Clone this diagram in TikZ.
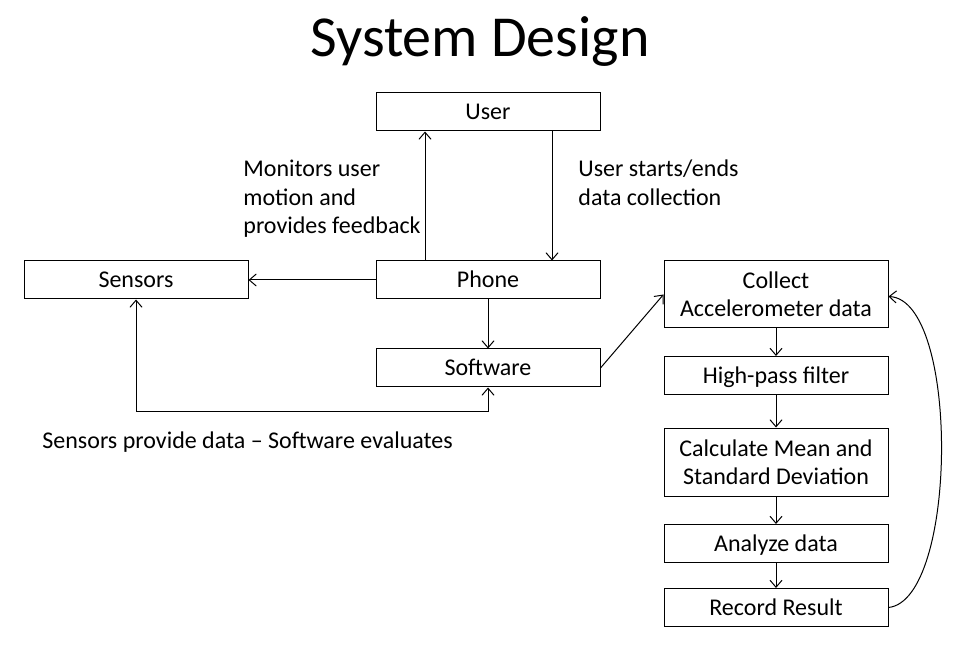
\documentclass[tikz,border=0pt]{standalone}
\usepackage{fontspec}
\setmainfont{Carlito}
\usetikzlibrary{arrows.meta}
\tikzset{
	box/.style={draw, line width=0.5pt, minimum width=112pt, minimum height=19pt, align=center, inner sep=1pt, font=\fontsize{12}{14}\selectfont},
	onebox/.style={box, text height=10pt, text depth=2pt},
	lbl/.style={align=left, anchor=west, inner sep=0pt, font=\fontsize{12}{14.3}\selectfont},
	arr/.style={line width=0.5pt, -{Straight Barb[length=3.5pt,width=6pt]}},
}
\begin{document}
\begin{tikzpicture}[x=0.5pt,y=-0.5pt]
			\useasboundingbox (0,0) rectangle (959,652);
			% title
			\node (title) at (480,42) {\fontsize{29}{35}\selectfont System Design};
			% boxes
			\node[onebox] (user) at (488,112) {User};
			\node[onebox] (phone) at (488,280) {Phone};
			\node[onebox] (sensors) at (136,280) {Sensors};
			\node[onebox] (software) at (488,368) {Software};
			\node[box, minimum height=33.5pt] (collect) at (776,294.5) {Collect\\Accelerometer data};
			\node[onebox] (hpf) at (776,375.5) {High-pass filter};
			\node[box, minimum height=34pt] (meanstd) at (776,462) {Calculate Mean and\\Standard Deviation};
			\node[onebox] (analyze) at (776,543.5) {Analyze data};
			\node[onebox] (record) at (776,607.5) {Record Result};
			% labels
			\node[lbl] (monitors) at (243,199) {Monitors user\\motion and\\provides feedback};
			\node[lbl] (starts) at (578,183) {User starts/ends\\data collection};
			\node[lbl] (evaluates) at (42,442) {Sensors provide data -- Software evaluates};
			% arrows
			\draw[arr] ([xshift=-31.5pt]phone.north) -- ([xshift=-31.5pt]user.south);
			\draw[arr] ([xshift=32pt]user.south) -- ([xshift=32pt]phone.north);
			\draw[arr] (phone.west) -- (sensors.east);
			\draw[arr] (phone.south) -- (software.south |- software.north);
			\draw[arr, {Straight Barb[length=3.5pt,width=6pt]}-{Straight Barb[length=3.5pt,width=6pt]}] (sensors.south) -- ++(0,112) -| (software.south);
			\draw[arr] (software.east) -- (collect.west);
			\draw[arr] (collect.south) -- (hpf.north);
			\draw[arr] (hpf.south) -- (meanstd.north);
			\draw[arr] (meanstd.south) -- (analyze.north);
			\draw[arr] (analyze.south) -- (record.north);
			% loop back
			\draw[arr] (record.east) .. controls (958,600) and (960,300) .. ([yshift=-1pt]collect.east);
\end{tikzpicture}
\end{document}
